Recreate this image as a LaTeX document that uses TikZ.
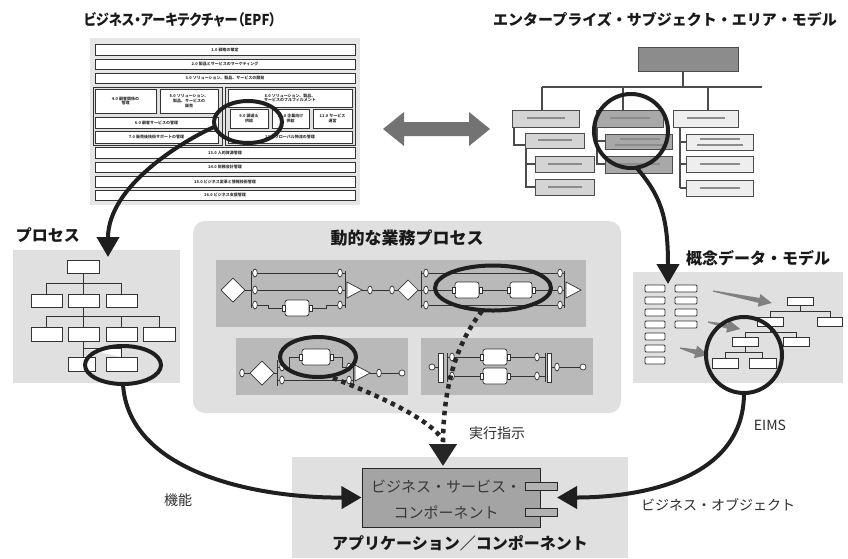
\documentclass[tikz,border=0pt]{standalone}
\usepackage{fontspec}
\setmainfont{Noto Sans CJK JP}
\newfontfamily\jpp{Noto Sans CJK JP}[RawFeature=+palt]
\usetikzlibrary{arrows.meta,calc}
\definecolor{lightbg}{HTML}{E0E0E0}
\definecolor{epfbg}{HTML}{E6E6E6}
\definecolor{panel}{HTML}{B9B9B9}
\definecolor{esadark}{HTML}{8C8C8C}
\definecolor{esamid}{HTML}{A8A8A8}
\definecolor{esalight}{HTML}{D4D4D4}
\definecolor{esapale}{HTML}{EEEEEE}
\definecolor{compfill}{HTML}{A4A4A4}
\tikzset{
 bigline/.style={draw=black!88, line width=4pt},
 bigarrow/.style={bigline, -{Triangle[length=20pt,width=22pt]}},
 dotarrow/.style={draw=black!85, line width=4.5pt, dash pattern=on 4.5pt off 4.5pt},
 tbox/.style={draw=black!80, fill=white, line width=0.9pt},
 esab/.style={draw=black!70, line width=0.9pt},
 esal/.style={draw=black!70, line width=1.2pt},
 phl/.style={draw=black!45, line width=1.6pt},
 epfrow/.style={draw=black!80, fill=white, line width=0.8pt},
 epft/.style={font=\fontsize{4}{4.6}\selectfont\bfseries, align=center, inner sep=0pt, text=black!80},
 ttl/.style={font=\bfseries\fontsize{15}{17}\selectfont, text=black!90, inner sep=0pt},
 lab/.style={font=\fontsize{14}{16}\selectfont, text=black!82, inner sep=0pt},
 flow/.style={draw=black!80, line width=0.7pt},
}
\newcommand\ov[2]{\draw[flow,fill=white] (#1,#2) ellipse (2.3 and 4);}
\newcommand\smc[2]{\draw[flow,fill=white] (#1,#2) circle (3);}
\newcommand\tk[4]{%
 \draw[flow,fill=white,rounded corners=2.5pt] ({#1-#3},{#2-#4}) rectangle ({#1+#3},{#2+#4});
 \draw[flow,fill=white] ({#1-#3-3},{#2-3}) rectangle ({#1-#3},{#2+3});
 \draw[flow,fill=white] ({#1+#3},{#2-3}) rectangle ({#1+#3+3},{#2+3});}
\newcommand\dia[3]{\draw[flow,fill=white] ({#1-#3},#2)--(#1,{#2-#3})--({#1+#3},#2)--(#1,{#2+#3})--cycle;}
\newcommand\tri[2]{\draw[flow,fill=white] (#1,{#2-8})--({#1+15},#2)--(#1,{#2+8})--cycle;}
\newcommand\erow[6]{\draw[epfrow] (#1,#2) rectangle (#3,#4); \node[epft] (#6) at ({(#1+#3)/2},{(#2+#4)/2}) {#5};}
\newcommand\pbx[4]{\draw[tbox] (#1,#2) rectangle (#3,#4);}
\newcommand\ebx[5]{\draw[esab,fill=#5] (#1,#2) rectangle (#3,#4);}
\newcommand\grayarrow[4]{%
 \begin{scope}[shift={(#1,#2)},rotate=#3]
 \fill[black!50] (0,-0.6) -- ({#4-13},-2.5) -- ({#4-13},-6.5) -- (#4,0) -- ({#4-13},6.5) -- ({#4-13},2.5) -- (0,0.6) -- cycle;
 \end{scope}}
\begin{document}
\begin{tikzpicture}[x=1pt,y=-1pt]
\useasboundingbox (0,0) rectangle (848,558);
\fill[white] (0,0) rectangle (848,558);

% ---------- titles ----------
\node[ttl] (tEPF) at (180,20) {\scalebox{0.88}[1]{\jpp ビジネス・アーキテクチャー（EPF）}};
\node[ttl] (tESA) at (665,20) {エンタープライズ・サブジェクト・エリア・モデル};

% ---------- EPF ----------
\fill[epfbg] (90,38) rectangle (360,205);
\erow{95}{44}{355}{55}{1.0 戦略の策定}{r1}
\erow{95}{59}{355}{69}{2.0 製品とサービスのマーケティング}{r2}
\erow{95}{73}{355}{83}{3.0 ソリューション、製品、サービスの開発}{r3}
\draw[epfrow,fill=black!12] (93,87) rectangle (222,145);
\erow{95}{89}{156}{113}{4.0 顧客関係の\\管理}{r4}
\erow{160}{89}{218}{113}{5.0 ソリューション、\\製品、サービスの\\販売}{r5}
\erow{95}{117}{218}{128}{6.0 顧客サービスの管理}{r6}
\erow{95}{131}{218}{143}{7.0 販売後技術サポートの管理}{r7}
\draw[epfrow,fill=black!12] (225,87) rectangle (355,145);
\erow{228}{89}{352}{107}{8.0 ソリューション、製品、\\サービスのフルフィルメント}{r8}
\erow{230}{109}{268}{128}{9.0 調達＆\\供給}{r9}
\erow{272}{109}{309}{128}{10.0 企業向け\\供給}{r10}
\erow{313}{109}{352}{128}{11.0 サービス\\運営}{r11}
\erow{228}{131}{352}{143}{12.0 グローバル物流の管理}{r12}
\erow{95}{147}{355}{158}{13.0 人的資源管理}{r13}
\erow{95}{162}{355}{172}{14.0 財務会計管理}{r14}
\erow{95}{176}{355}{187}{15.0 ビジネス変革と情報技術管理}{r15}
\erow{95}{190}{355}{200}{16.0 ビジネス支援管理}{r16}
\draw[bigline] (248,122) ellipse (34 and 21);
\coordinate (epfS) at (214,127);

% ---------- double arrow ----------
\fill[black!55] (383,129)--(404,112)--(404,122)--(469,122)--(469,112)--(490,129)--(469,146)--(469,136)--(404,136)--(404,146)--cycle;

% ---------- ESA model ----------
\draw[esal] (683,71)--(683,87) (542,87)--(762,87) (542,87)--(542,110) (623,87)--(623,110) (708,87)--(708,110);
\draw[esal] (514,127)--(514,145)--(525,145) (526,148)--(526,188) (526,164)--(535,164) (526,187)--(535,187);
\draw[esal] (597,127)--(597,165) (597,141)--(605,141) (597,164)--(605,164);
\draw[esal] (680,127)--(680,188) (680,142)--(686,142) (680,164)--(686,164) (680,188)--(686,188);
\ebx{638}{47}{738}{71}{esadark}
\draw[phl] (660,55)--(718,55) (655,63)--(722,63);
\ebx{512}{110}{579}{127}{esalight} \draw[phl] (527,118)--(565,118);
\ebx{596}{110}{663}{127}{esamid} \draw[phl] (610,118)--(650,118);
\ebx{673}{110}{738}{127}{esapale} \draw[phl] (687,118)--(725,118);
\ebx{525}{133}{584}{148}{esalight} \draw[phl] (538,140)--(572,140);
\ebx{535}{156}{594}{172}{esalight} \draw[phl] (548,164)--(582,164);
\ebx{535}{179}{594}{195}{esalight} \draw[phl] (548,187)--(582,187);
\ebx{605}{134}{672}{149}{esamid} \draw[phl] (620,139)--(660,139) (615,145)--(665,145);
\ebx{605}{156}{672}{173}{esamid} \draw[phl] (618,164)--(660,164);
\ebx{686}{134}{753}{150}{esapale} \draw[phl] (700,139)--(740,139) (697,145)--(743,145);
\ebx{686}{156}{753}{172}{esapale} \draw[phl] (700,164)--(740,164);
\ebx{686}{180}{753}{196}{esapale} \draw[phl] (700,188)--(740,188);
\draw[bigline] (631,131) circle (37);
\coordinate (esaS) at (636,167);

% ---------- Process ----------
\node[ttl, font=\bfseries\fontsize{16}{18}\selectfont] (tProc) at (48,235) {プロセス};
\fill[lightbg] (13,250) rectangle (180,383);
\draw[tbox] (83,273)--(83,283) (46,283)--(121,283) (46,283)--(46,294) (83,283)--(83,294) (121,283)--(121,294);
\draw[tbox] (83,307)--(83,316) (46,316)--(159,316) (46,316)--(46,327) (83,316)--(83,327) (121,316)--(121,327) (159,316)--(159,327);
\draw[tbox] (83,341)--(83,357) (83,348)--(121,348)--(121,357);
\pbx{67}{260}{99}{273}
\pbx{31}{294}{62}{307} \pbx{68}{294}{99}{307} \pbx{106}{294}{137}{307}
\pbx{31}{327}{62}{341} \pbx{68}{327}{99}{341} \pbx{106}{327}{137}{341} \pbx{143}{327}{175}{341}
\pbx{68}{357}{95}{371} \pbx{106}{357}{137}{371}
\draw[bigline] (123,365) ellipse (38 and 19);
\coordinate (procN) at (108,257);
\coordinate (procS) at (123,384);

% ---------- Dynamic process ----------
\fill[lightbg, rounded corners=12pt] (193,221) rectangle (621,413);
\node[ttl, font=\bfseries\fontsize{17}{19}\selectfont] (tDyn) at (407,238) {動的な業務プロセス};
% panel 1
\fill[panel] (216,260) rectangle (586,327);
\dia{233}{290}{12}
\draw[flow] (245,290)--(251,290) (251,271)--(251,308);
\draw[flow] (251,273)--(338,273) (251,290)--(338,290);
\draw[flow] (251,305)--(268,305)--(268,308)--(282,308) (312,308)--(326,308)--(326,305)--(345,305);
\draw[flow] (340,273)--(345,273) (340,290)--(345,290) (345,271)--(345,308);
\foreach \yy in {273,290,305}{\ov{255}{\yy}\ov{340}{\yy}}
\tk{297}{308}{12}{8}
\tri{347}{290}
\draw[flow] (362,290)--(398,290);
\ov{370}{290}\ov{392}{290}
\dia{408}{290}{10}
\draw[flow] (418,290)--(421,290) (421,271)--(421,308);
\draw[flow] (421,273)--(564,273) (421,290)--(564,290) (421,305)--(564,305) (564,271)--(564,308);
\foreach \yy in {273,290,305}{\ov{426}{\yy}\ov{560}{\yy}}
\tk{467}{290}{12}{8}
\tk{521}{290}{11}{8}
\tri{566}{290}
% panel 2
\fill[panel] (236,338) rectangle (408,395);
\draw[flow] (242,373)--(250,373) (274,373)--(277,373) (277,360)--(277,386);
\ov{242}{373}
\dia{262}{373}{12}
\draw[flow] (277,367)--(289,367)--(289,357)--(299,357) (333,357)--(342,357)--(342,367)--(353,367);
\draw[flow] (277,380)--(353,380) (353,360)--(353,386);
\ov{282}{367}\ov{282}{380}\ov{349}{367}\ov{349}{380}
\tk{316}{357}{14}{8}
\tri{355}{373}
\draw[flow] (370,373)--(400,373);
\ov{379}{373}
\smc{402}{373}
\draw[bigline] (318,357) ellipse (38 and 20);
% panel 3
\fill[panel] (421,338) rectangle (593,395);
\draw[flow] (435,367)--(438,367) (447,353)--(447,382);
\draw[flow,fill=white] (438,353) rectangle (443,382);
\draw[flow] (447,357)--(545,357) (447,376)--(545,376) (545,353)--(545,382);
\draw[flow,fill=white] (547,353) rectangle (551,382);
\smc{432}{367}
\ov{452}{357}\ov{452}{376}\ov{537}{357}\ov{537}{376}
\tk{495}{357}{12}{8}
\tk{495}{376}{12}{8}
\draw[flow] (551,367)--(580,367);
\ov{557}{367}
\smc{583}{367}
\draw[bigline] (493,288) ellipse (58 and 22.5);
\coordinate (dyn1) at (482,311);
\coordinate (dyn2) at (333,378);
\coordinate (join) at (443,440);

% ---------- Concept data model ----------
\node[ttl, font=\bfseries\fontsize{16}{18}\selectfont] (tCon) at (758,258) {概念データ・モデル};
\fill[lightbg] (633,272) rectangle (843,383);
\foreach \yy in {285,297,309,321,333,345,357}{\draw[tbox,rounded corners=1pt] (645,\yy) rectangle (665,{\yy+7});}
\foreach \yy in {285,297,309,321}{\draw[tbox,rounded corners=1pt] (675,\yy) rectangle (697,{\yy+7});}
\grayarrow{713}{291}{-11.5}{60}
\grayarrow{708}{322}{-12.3}{33}
\grayarrow{680}{348}{-14}{29}
\draw[tbox] (800,305)--(800,311) (770,311)--(830,311) (770,311)--(770,317) (830,311)--(830,317);
\draw[tbox] (770,326)--(770,332) (745,332)--(796,332) (745,332)--(745,337) (796,332)--(796,337);
\draw[tbox] (745,346)--(745,352) (725,352)--(762,352) (725,352)--(725,358) (762,352)--(762,358);
\pbx{787}{297}{813}{305}
\pbx{757}{317}{783}{326} \pbx{817}{317}{842}{326}
\pbx{732}{337}{758}{346} \pbx{783}{337}{809}{346}
\pbx{712}{358}{738}{368} \pbx{749}{358}{776}{368}
\draw[bigline] (744,355) circle (38);
\coordinate (conN) at (668,284);
\coordinate (conS) at (744,393);

% ---------- Application / component ----------
\fill[lightbg] (292,457) rectangle (628,558);
\node[draw=black!85, line width=1pt, fill=compfill, minimum width=178pt, minimum height=59pt, inner sep=0pt] (comp) at (451,497.5) {};
\draw[draw=black!85, line width=0.9pt, fill=black!30] (525,482) rectangle (557,490);
\draw[draw=black!85, line width=0.9pt, fill=black!30] (525,508) rectangle (557,516);
\node[lab, text=black!78, font=\fontsize{15}{17}\selectfont] (compT1) at (446,487) {ビジネス・サービス・};
\node[lab, text=black!78, font=\fontsize{15}{17}\selectfont] (compT2) at (446,512) {コンポーネント};
\node[ttl, font=\bfseries\fontsize{16}{18}\selectfont] (tApp) at (460,543) {アプリケーション／コンポーネント};
\coordinate (compR) at (557,497.5);
\coordinate (compN) at (443,466);

% ---------- connectors ----------
\draw[bigarrow] (epfS) .. controls (185,140) and (108,185) .. (procN);
\draw[bigarrow] (esaS) .. controls (660,195) and (668,215) .. (conN);
\draw[bigarrow] (procS) .. controls (128,470) and (250,498) .. (comp.west);
\draw[bigarrow] (conS) .. controls (744,480) and (640,497.5) .. (compR);
\draw[dotarrow] (dyn2) .. controls (385,398) and (430,420) .. (join);
\draw[dotarrow, -{Triangle[length=22pt,width=27pt]}] (dyn1) .. controls (455,345) and (443,390) .. (compN);

% ---------- labels ----------
\node[lab] (lKino) at (178,500) {機能};
\node[lab] (lExec) at (497,433) {実行指示};
\node[lab] (lEIMS) at (770,425) {EIMS};
\node[lab] (lBO) at (718,505) {ビジネス・オブジェクト};
\end{tikzpicture}
\end{document}
